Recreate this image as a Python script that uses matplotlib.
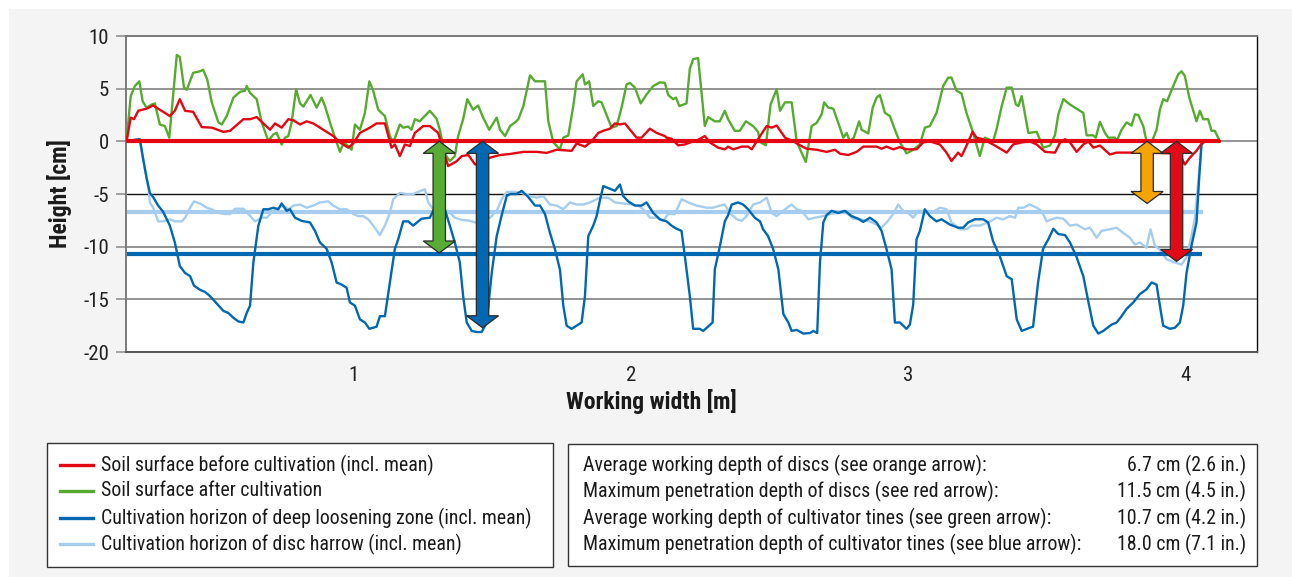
import matplotlib
matplotlib.use("Agg")
import matplotlib.pyplot as plt
import matplotlib.font_manager as fm
from matplotlib.patches import Rectangle, Polygon
import numpy as np

plt.rcParams['font.family'] = ['Roboto', 'DejaVu Sans']

# ---------------- data (working width in m, height in cm) ----------------
before_x = [0.183, 0.198, 0.210, 0.225, 0.255, 0.279, 0.303, 0.339, 0.357, 0.375, 0.394, 0.423, 0.454, 0.490,
            0.532, 0.556, 0.604, 0.628, 0.652, 0.676, 0.700, 0.718, 0.742, 0.766, 0.784, 0.808, 0.832, 0.856,
            0.880, 0.928, 0.952, 0.982, 1.000, 1.024, 1.060, 1.084, 1.114, 1.138, 1.150, 1.168, 1.186, 1.204,
            1.222, 1.252, 1.276, 1.306, 1.324, 1.342, 1.372, 1.391, 1.415, 1.439, 1.463, 1.493, 1.529, 1.565,
            1.613, 1.661, 1.697, 1.733, 1.787, 1.805, 1.835, 1.859, 1.883, 1.901, 1.925, 1.943, 1.961, 1.979,
            2.021, 2.039, 2.069, 2.093, 2.123, 2.129, 2.147, 2.171, 2.195, 2.225, 2.243, 2.267, 2.285, 2.315,
            2.339, 2.351, 2.369, 2.400, 2.423, 2.436, 2.466, 2.490, 2.508, 2.526, 2.556, 2.586, 2.610, 2.634,
            2.670, 2.706, 2.736, 2.754, 2.784, 2.814, 2.838, 2.886, 2.904, 2.922, 2.946, 2.970, 2.994, 3.030,
            3.054, 3.078, 3.114, 3.138, 3.156, 3.180, 3.192, 3.204, 3.232, 3.246, 3.270, 3.306, 3.355, 3.378,
            3.409, 3.438, 3.463, 3.493, 3.529, 3.547, 3.565, 3.583, 3.607, 3.631, 3.649, 3.667, 3.691, 3.727,
            3.751, 3.847, 3.943, 3.979, 3.997, 4.015, 4.039, 4.063, 4.123]
before_y = [0.0, 2.25, 2.1, 2.9, 3.1, 3.4, 3.0, 2.4, 2.9, 4.0, 2.9, 2.8, 1.35, 1.3,
            0.9, 1.0, 2.1, 2.1, 2.3, 1.7, 1.1, 1.7, 1.3, 2.1, 2.0, 1.6, 1.9, 1.7,
            1.3, 0.5, -0.1, -0.6, -0.2, 0.8, 1.3, 1.7, 1.7, -0.6, -0.3, -1.4, -0.3, -0.45,
            0.8, 1.45, 1.45, 0.8, -0.76, -2.35, -1.9, -1.4, -1.3, -2.2, -2.0, -1.55, -1.3, -1.2,
            -1.0, -1.0, -1.1, -0.8, -0.9, -0.2, -0.5, 0.0, 0.8, 1.0, 1.2, 1.7, 1.6, 1.7,
            0.35, 0.35, 1.2, 0.8, 0.5, 0.35, 0.25, -0.38, -0.3, 0.0, 0.15, 0.5, -0.1, -0.6,
            -0.76, -0.5, -0.76, -0.5, -0.5, -0.76, 0.5, 1.45, 1.3, 1.5, 0.35, 0.0, -0.38, -0.7,
            -0.8, -1.0, -0.8, -1.17, -1.3, -1.0, -0.5, -0.5, -0.7, -0.5, -0.76, -0.55, -0.76, -0.76,
            -0.1, 0.0, -0.3, -1.07, -1.87, -1.07, -1.4, -0.76, 0.9, 0.35, 0.2, -0.3, -1.07, -0.3,
            -0.1, 0.0, -0.3, -1.0, -1.07, -0.13, 0.2, -0.1, -1.0, -0.3, 0.0, -0.6, -0.4, -1.25,
            -1.07, -1.07, -1.14, -1.25, -2.2, -1.55, -0.9, 0.0, 0.0]

after_x = [0.183, 0.198, 0.213, 0.229, 0.241, 0.255, 0.274, 0.285, 0.303, 0.321, 0.337, 0.349, 0.364, 0.375,
           0.390, 0.400, 0.423, 0.448, 0.459, 0.474, 0.490, 0.514, 0.526, 0.544, 0.568, 0.592, 0.610, 0.616,
           0.628, 0.652, 0.670, 0.694, 0.712, 0.724, 0.742, 0.754, 0.766, 0.778, 0.794, 0.808, 0.820, 0.846,
           0.868, 0.886, 0.898, 0.922, 0.952, 0.966, 0.982, 0.994, 1.006, 1.024, 1.042, 1.058, 1.072, 1.090,
           1.114, 1.132, 1.144, 1.168, 1.180, 1.198, 1.210, 1.222, 1.240, 1.252, 1.276, 1.300, 1.312, 1.330,
           1.348, 1.366, 1.378, 1.396, 1.411, 1.432, 1.450, 1.468, 1.490, 1.517, 1.529, 1.547, 1.565, 1.583,
           1.595, 1.613, 1.637, 1.655, 1.691, 1.703, 1.721, 1.745, 1.757, 1.775, 1.793, 1.805, 1.827, 1.835,
           1.850, 1.865, 1.883, 1.895, 1.931, 1.949, 1.967, 1.985, 1.997, 2.015, 2.036, 2.057, 2.081, 2.105,
           2.123, 2.135, 2.153, 2.163, 2.175, 2.201, 2.213, 2.225, 2.243, 2.267, 2.279, 2.303, 2.321, 2.339,
           2.351, 2.375, 2.393, 2.415, 2.441, 2.459, 2.466, 2.487, 2.504, 2.526, 2.538, 2.556, 2.580, 2.598,
           2.616, 2.631, 2.652, 2.670, 2.688, 2.697, 2.712, 2.730, 2.748, 2.766, 2.778, 2.790, 2.804, 2.823,
           2.832, 2.856, 2.872, 2.886, 2.898, 2.916, 2.934, 2.952, 2.970, 2.994, 3.018, 3.042, 3.060, 3.078,
           3.102, 3.126, 3.144, 3.156, 3.174, 3.192, 3.210, 3.234, 3.258, 3.276, 3.306, 3.318, 3.337, 3.355,
           3.373, 3.388, 3.397, 3.409, 3.433, 3.463, 3.486, 3.511, 3.529, 3.541, 3.559, 3.583, 3.613, 3.631,
           3.643, 3.667, 3.676, 3.691, 3.709, 3.721, 3.745, 3.751, 3.769, 3.787, 3.805, 3.817, 3.829, 3.847,
           3.859, 3.877, 3.895, 3.907, 3.919, 3.933, 3.955, 3.973, 3.985, 3.997, 4.013, 4.039, 4.051, 4.063,
           4.081, 4.093, 4.105, 4.123]
after_y = [0.0, 4.3, 5.25, 5.7, 3.8, 3.2, 3.5, 3.6, 1.6, 1.45, 0.35, 3.8, 8.2, 8.0,
           5.1, 4.9, 6.5, 6.65, 6.8, 5.85, 3.7, 1.8, 1.6, 2.4, 4.15, 4.7, 4.8, 5.25,
           4.6, 4.0, 1.8, 0.03, 0.66, 0.8, -0.3, 0.35, 0.5, 1.8, 4.95, 3.6, 3.3, 4.4,
           3.2, 4.15, 3.35, 1.3, -1.0, -0.1, -0.45, -0.8, 1.6, 1.1, 2.7, 5.7, 4.8, 3.0,
           2.4, 0.5, -0.1, 1.6, 1.3, 1.4, 1.1, 2.1, 1.9, 2.25, 2.9, 2.15, 1.1, -1.2,
           -1.87, -1.4, 0.5, 2.1, 4.0, 3.0, 3.4, 2.25, 1.1, 2.25, 1.1, 0.5, 1.45, 1.8,
           2.1, 3.35, 6.27, 5.7, 5.7, 1.9, -0.1, -0.76, 0.35, 0.56, 3.35, 5.7, 6.36, 5.4,
           5.7, 3.35, 3.8, 3.7, 1.3, 1.45, 3.2, 5.4, 5.55, 5.1, 3.6, 4.45, 5.25, 5.6,
           5.55, 4.4, 4.0, 4.15, 3.35, 3.6, 6.9, 7.8, 7.9, 1.45, 2.3, 1.9, 1.9, 2.9,
           2.1, 1.0, 1.0, 1.9, 1.45, 0.9, -0.06, -0.38, 3.5, 4.95, 2.9, 3.7, 3.7, 0.0,
           -1.1, -1.96, 1.45, 1.75, 2.56, 3.7, 3.2, 3.1, 1.75, 0.35, 0.8, 0.0, 0.35, 1.9,
           1.1, 0.75, 3.2, 4.15, 4.4, 2.7, 2.4, 1.1, -0.1, -1.14, -0.8, -0.3, 1.3, 1.45,
           2.7, 5.25, 6.05, 6.05, 4.8, 4.55, 2.7, 0.8, -1.4, 0.35, 0.0, 1.1, 3.35, 5.1,
           5.1, 3.5, 3.35, 4.3, 0.8, 0.9, -0.6, -0.4, 0.6, 2.56, 4.0, 3.5, 3.0, 2.7,
           0.57, 0.57, 0.35, 1.85, 0.8, 0.35, 0.35, 0.0, 1.1, 1.8, 1.5, 2.56, 2.5, 1.45,
           0.0, -0.1, 1.1, 3.0, 4.0, 3.8, 5.25, 6.36, 6.65, 6.2, 4.15, 1.9, 2.9, 2.1,
           2.1, 1.0, 1.0, 0.0]

deep_x = [0.183, 0.225, 0.231, 0.243, 0.255, 0.267, 0.279, 0.297, 0.315, 0.339, 0.357, 0.375, 0.394, 0.412,
          0.426, 0.448, 0.466, 0.484, 0.508, 0.532, 0.550, 0.568, 0.586, 0.604, 0.616, 0.628, 0.640, 0.658,
          0.676, 0.694, 0.712, 0.730, 0.742, 0.760, 0.772, 0.790, 0.814, 0.844, 0.862, 0.880, 0.904, 0.922,
          0.940, 0.958, 0.976, 0.988, 1.006, 1.024, 1.042, 1.058, 1.084, 1.096, 1.114, 1.132, 1.150, 1.162,
          1.180, 1.198, 1.216, 1.246, 1.276, 1.288, 1.312, 1.330, 1.348, 1.366, 1.384, 1.396, 1.409, 1.427,
          1.445, 1.463, 1.481, 1.499, 1.517, 1.535, 1.553, 1.565, 1.589, 1.607, 1.631, 1.655, 1.673, 1.691,
          1.709, 1.727, 1.745, 1.757, 1.769, 1.787, 1.805, 1.823, 1.835, 1.847, 1.865, 1.877, 1.889, 1.901,
          1.925, 1.943, 1.961, 1.973, 1.991, 2.015, 2.039, 2.057, 2.081, 2.105, 2.129, 2.147, 2.165, 2.183,
          2.195, 2.213, 2.225, 2.249, 2.261, 2.274, 2.295, 2.303, 2.321, 2.339, 2.351, 2.364, 2.387, 2.405,
          2.423, 2.447, 2.466, 2.477, 2.495, 2.513, 2.532, 2.550, 2.568, 2.580, 2.598, 2.622, 2.646, 2.658,
          2.672, 2.682, 2.694, 2.706, 2.724, 2.748, 2.772, 2.796, 2.820, 2.838, 2.862, 2.886, 2.904, 2.922,
          2.940, 2.952, 2.970, 2.994, 3.006, 3.018, 3.030, 3.042, 3.060, 3.078, 3.102, 3.120, 3.150, 3.180,
          3.198, 3.216, 3.240, 3.270, 3.288, 3.306, 3.330, 3.355, 3.373, 3.391, 3.409, 3.438, 3.450, 3.468,
          3.486, 3.505, 3.523, 3.541, 3.565, 3.583, 3.607, 3.631, 3.649, 3.667, 3.685, 3.703, 3.733, 3.751,
          3.769, 3.787, 3.811, 3.835, 3.859, 3.877, 3.895, 3.907, 3.919, 3.943, 3.961, 3.979, 3.991, 4.003,
          4.021, 4.039, 4.049, 4.057, 4.069, 4.123]
deep_y = [0.0, 0.2, 0.2, -1.7, -3.45, -4.9, -5.3, -6.1, -6.7, -8.0, -9.6, -11.85, -12.5, -12.8,
          -13.7, -14.1, -14.3, -14.7, -15.4, -16.1, -16.3, -16.75, -17.1, -17.2, -16.3, -15.6, -11.5, -8.0,
          -6.45, -6.45, -6.3, -6.45, -5.9, -6.6, -6.45, -7.25, -7.55, -7.7, -8.5, -9.6, -10.2, -11.5,
          -13.4, -13.6, -13.9, -15.3, -15.6, -16.9, -17.2, -17.8, -17.6, -16.6, -16.6, -13.4, -10.2, -9.3,
          -7.6, -7.6, -8.0, -7.35, -7.25, -6.6, -6.0, -6.45, -8.0, -9.6, -11.5, -14.7, -17.2, -18.0,
          -18.1, -18.1, -17.2, -12.5, -9.0, -7.0, -5.2, -5.0, -5.0, -4.7, -5.3, -6.1, -6.1, -6.9,
          -8.7, -10.25, -12.2, -15.6, -17.5, -17.8, -17.5, -17.2, -14.7, -9.0, -8.0, -7.1, -5.6, -4.25,
          -4.5, -4.7, -4.1, -5.2, -5.7, -6.1, -6.1, -5.8, -6.8, -7.4, -7.6, -8.0, -8.3, -8.5,
          -10.9, -14.7, -17.8, -17.8, -18.0, -17.7, -17.2, -12.15, -10.0, -7.6, -7.0, -6.0, -5.8, -6.0,
          -6.45, -7.25, -7.6, -8.35, -9.0, -10.2, -12.15, -16.4, -17.2, -18.0, -17.9, -18.25, -18.2, -18.0,
          -18.2, -11.5, -7.7, -7.0, -6.6, -6.8, -6.6, -7.1, -7.35, -7.65, -7.25, -7.7, -8.5, -10.25,
          -12.15, -17.2, -17.2, -17.8, -17.4, -15.5, -9.3, -8.5, -6.45, -7.1, -7.6, -7.4, -7.9, -8.2,
          -8.2, -7.7, -7.4, -7.4, -7.7, -9.5, -10.9, -12.8, -13.1, -16.9, -18.0, -17.7, -17.6, -13.4,
          -10.2, -9.3, -8.3, -8.8, -8.9, -9.6, -11.0, -12.8, -15.2, -17.5, -18.25, -18.0, -17.4, -17.2,
          -16.6, -15.9, -15.3, -14.5, -14.05, -13.4, -13.6, -15.6, -17.5, -17.8, -17.7, -17.2, -15.6, -12.5,
          -9.9, -7.7, -3.3, -0.3, 0.0, 0.0]

disc_x = [0.183, 0.231, 0.243, 0.255, 0.262, 0.267, 0.279, 0.297, 0.315, 0.339, 0.357, 0.382, 0.394, 0.412,
          0.426, 0.448, 0.472, 0.490, 0.514, 0.538, 0.556, 0.574, 0.604, 0.622, 0.646, 0.670, 0.688, 0.712,
          0.730, 0.748, 0.766, 0.784, 0.808, 0.832, 0.856, 0.880, 0.910, 0.928, 0.952, 0.976, 1.000, 1.018,
          1.036, 1.054, 1.072, 1.096, 1.114, 1.132, 1.144, 1.168, 1.192, 1.216, 1.234, 1.258, 1.270, 1.288,
          1.312, 1.342, 1.366, 1.391, 1.421, 1.439, 1.463, 1.493, 1.517, 1.535, 1.553, 1.583, 1.607, 1.637,
          1.661, 1.685, 1.709, 1.733, 1.757, 1.781, 1.805, 1.829, 1.853, 1.889, 1.919, 1.943, 1.973, 2.003,
          2.027, 2.051, 2.069, 2.093, 2.117, 2.135, 2.159, 2.183, 2.207, 2.237, 2.274, 2.297, 2.321, 2.339,
          2.357, 2.382, 2.400, 2.418, 2.441, 2.466, 2.490, 2.508, 2.526, 2.556, 2.580, 2.598, 2.616, 2.640,
          2.664, 2.694, 2.718, 2.748, 2.778, 2.802, 2.826, 2.856, 2.886, 2.904, 2.922, 2.946, 2.964, 2.982,
          3.000, 3.018, 3.036, 3.060, 3.084, 3.114, 3.138, 3.156, 3.186, 3.210, 3.228, 3.258, 3.288, 3.318,
          3.342, 3.366, 3.385, 3.397, 3.415, 3.438, 3.463, 3.480, 3.499, 3.517, 3.535, 3.559, 3.583, 3.607,
          3.637, 3.655, 3.679, 3.697, 3.727, 3.751, 3.775, 3.799, 3.817, 3.835, 3.859, 3.873, 3.889, 3.907,
          3.931, 3.961, 3.985, 4.003, 4.021, 4.033, 4.045, 4.057, 4.069, 4.123]
disc_y = [0.0, 0.0, -1.7, -3.45, -4.5, -5.8, -6.3, -7.6, -7.6, -7.4, -7.6, -7.6, -7.25, -6.3,
          -5.7, -5.9, -6.3, -6.45, -6.8, -6.9, -6.9, -6.4, -6.4, -6.9, -7.6, -7.25, -7.25, -6.6,
          -6.3, -6.1, -6.45, -6.1, -6.0, -6.3, -6.1, -5.8, -5.7, -6.1, -6.45, -6.45, -6.9, -7.1,
          -7.1, -7.4, -8.0, -8.9, -8.0, -6.8, -5.5, -4.9, -5.0, -5.0, -4.8, -4.55, -5.8, -6.45,
          -6.6, -6.6, -7.25, -7.45, -7.55, -7.7, -7.55, -7.25, -6.6, -5.5, -4.8, -4.8, -4.9, -5.2,
          -5.35, -5.2, -6.0, -6.1, -6.45, -5.8, -6.0, -6.0, -5.8, -5.35, -5.35, -5.8, -5.9, -6.0,
          -6.1, -6.6, -7.25, -7.25, -7.55, -6.9, -6.9, -5.5, -5.8, -6.1, -6.3, -6.3, -6.1, -6.0,
          -6.8, -7.4, -7.55, -7.1, -6.0, -5.8, -5.35, -6.8, -7.1, -6.45, -6.0, -6.45, -6.6, -7.4,
          -7.25, -7.1, -6.9, -6.8, -6.8, -7.35, -7.4, -7.55, -7.9, -8.2, -7.7, -6.9, -6.0, -6.6,
          -6.8, -7.25, -6.6, -6.6, -6.8, -6.3, -6.45, -7.7, -8.35, -8.35, -8.0, -8.0, -7.7, -7.25,
          -7.4, -7.1, -7.25, -6.3, -6.3, -6.0, -6.3, -6.6, -7.6, -7.4, -7.25, -7.35, -8.0, -7.9,
          -8.35, -8.2, -9.15, -8.5, -8.35, -8.2, -8.7, -9.15, -9.8, -9.6, -10.1, -8.35, -9.9, -10.3,
          -11.2, -11.5, -11.7, -11.0, -9.0, -7.25, -3.9, -0.2, 0.0, 0.0]

# means (cm) and the x-extent of each mean line (m)
before_mean = 0.0
deep_mean = -10.7
disc_mean = -6.7
mean_start = 0.183
before_mean_end = 4.123
deep_mean_end = 4.057
disc_mean_end = 4.063

# arrows: (x position [m], top [cm], bottom [cm], colour)
arrow_x = [1.310, 1.466, 3.861, 3.967]
arrow_top = [0.0, 0.0, 0.0, 0.0]
arrow_bottom = [-10.6, -17.7, -5.9, -11.4]
arrow_colors = ['#58ab33', '#0068b3', '#f5a400', '#e20a16']

x_ticks = [1, 2, 3, 4]
y_ticks = [-20, -15, -10, -5, 0, 5, 10]

legend_labels = ['Soil surface before cultivation (incl. mean)',
                 'Soil surface after cultivation',
                 'Cultivation horizon of deep loosening zone (incl. mean)',
                 'Cultivation horizon of disc harrow (incl. mean)']
info_labels = ['Average working depth of discs (see orange arrow):',
               'Maximum penetration depth of discs (see red arrow):',
               'Average working depth of cultivator tines (see green arrow):',
               'Maximum penetration depth of cultivator tines (see blue arrow):']
info_values = ['6.7 cm (2.6 in.)', '11.5 cm (4.5 in.)', '10.7 cm (4.2 in.)', '18.0 cm (7.1 in.)']

RED = '#e30613'
GREEN = '#56ab2f'
DBLUE = '#0067b1'
LBLUE = '#a6cdee'

# ---------------- font selection: prefer a narrow / condensed sans ----------------
def find_font(bold):
    want_w = 700 if bold else 400
    prefs = ['Liberation Sans Narrow', 'Roboto Condensed', 'Arial Narrow', 'Open Sans Condensed',
             'Noto Sans', 'DejaVu Sans']
    best = None
    for name in prefs:
        for f in fm.fontManager.ttflist:
            narrow = ('Narrow' in f.name or 'Condensed' in f.name or
                      str(f.stretch) in ('condensed', 'semi-condensed', 'extra-condensed', '75', '87.5'))
            if f.name.startswith(name.split()[0]) and narrow and f.style == 'normal':
                w = f.weight if isinstance(f.weight, int) else (700 if 'bold' in str(f.weight) else 400)
                if abs(w - want_w) <= 100:
                    best = f.fname
                    break
        if best:
            break
    return best

reg_path = find_font(False)
bold_path = find_font(True)

def FP(size, bold=False):
    path = bold_path if bold else reg_path
    if path:
        return fm.FontProperties(fname=path, size=size)
    return fm.FontProperties(family=['Roboto', 'DejaVu Sans'], size=size * 0.93,
                             weight='bold' if bold else 'normal')

# ---------------- figure ----------------
W, H = 1292, 577
fig = plt.figure(figsize=(W / 100, H / 100), dpi=100, facecolor='white')

def fx(px):
    return px / W

def fy(py):
    return 1 - py / H

# light grey panel (behind the axes)
fig.patches.append(Rectangle((fx(9), 0), 1 - fx(9), fy(9), transform=fig.transFigure,
                             facecolor='#f4f4f4', edgecolor='none', zorder=-10))

ax = fig.add_axes([fx(126), fy(352), fx(1257) - fx(126), fy(36) - fy(352)])
ax.set_zorder(2)
ax.set_facecolor('white')
ax.set_xlim(0.181, 4.257)
ax.set_ylim(-20, 10)
ax.set_yticks(y_ticks)
ax.set_yticklabels([str(t) for t in y_ticks])
ax.set_xticks(x_ticks)
ax.set_xticklabels([str(t) for t in x_ticks])
ax.tick_params(axis='y', direction='out', length=7.2, width=1.1, color='#888888',
               labelcolor='#222222', pad=5)
ax.tick_params(axis='x', length=0, labelcolor='#222222', pad=10)
for lab in ax.get_xticklabels() + ax.get_yticklabels():
    lab.set_fontproperties(FP(15))
ax.yaxis.grid(True, color='#8a8a8a', linewidth=1.3)
ax.set_axisbelow(True)
for t, gl in zip(y_ticks, ax.get_ygridlines()):
    if t == -5:
        gl.set_color('#111111')
        gl.set_linewidth(1.0)
for s in ['left', 'top']:
    ax.spines[s].set_color('#7a7a7a')
    ax.spines[s].set_linewidth(1.4)
ax.spines['bottom'].set_color('#555555')
ax.spines['bottom'].set_linewidth(1.4)
ax.spines['right'].set_color('#111111')
ax.spines['right'].set_linewidth(1.0)

lw = 1.7
mlw = 3.0
ax.plot(disc_x, disc_y, color=LBLUE, lw=lw, zorder=3)
ax.plot([mean_start, disc_mean_end], [disc_mean, disc_mean], color=LBLUE, lw=mlw, zorder=3.2,
        solid_capstyle='butt')
ax.plot(deep_x, deep_y, color=DBLUE, lw=lw, zorder=3.4)
ax.plot([mean_start, deep_mean_end], [deep_mean, deep_mean], color=DBLUE, lw=mlw, zorder=3.5,
        solid_capstyle='butt')
ax.plot(after_x, after_y, color=GREEN, lw=lw, zorder=3.6)
ax.plot(before_x, before_y, color=RED, lw=lw, zorder=3.7)
ax.plot([mean_start, before_mean_end], [before_mean, before_mean], color=RED, lw=mlw, zorder=3.8,
        solid_capstyle='butt')

# double-headed block arrows, sized in pixels around data positions
def double_arrow(x, y_top, y_bot, color, bw=6.2, hw=16.0, hl=12.0):
    tr = ax.transData
    xp, yt = tr.transform((x, y_top))
    _, yb = tr.transform((x, y_bot))
    pts = [(xp, yt), (xp + hw, yt - hl), (xp + bw, yt - hl), (xp + bw, yb + hl), (xp + hw, yb + hl),
           (xp, yb), (xp - hw, yb + hl), (xp - bw, yb + hl), (xp - bw, yt - hl), (xp - hw, yt - hl)]
    dpts = tr.inverted().transform(np.array(pts))
    ax.add_patch(Polygon(dpts, closed=True, facecolor=color, edgecolor='#2a2a2a', lw=0.9, zorder=6,
                         joinstyle='miter'))

for x, yt, yb, c in zip(arrow_x, arrow_top, arrow_bottom, arrow_colors):
    double_arrow(x, yt, yb, c)

# axis titles
fig.text(fx(60), fy(194), 'Height [cm]', rotation=90, ha='center', va='center',
         fontproperties=FP(17, True), color='#1a1a1a')
fig.text(fx(651), fy(402), 'Working width [m]', ha='center', va='center',
         fontproperties=FP(17, True), color='#1a1a1a')

# legend box
fig.patches.append(Rectangle((fx(47), fy(567)), fx(553) - fx(47), fy(443) - fy(567),
                             transform=fig.transFigure, facecolor='white', edgecolor='#333333',
                             lw=1.0, zorder=1))
row_y = [465, 491, 518, 544]
for lab, col, ry in zip(legend_labels, [RED, GREEN, DBLUE, LBLUE], row_y):
    fig.add_artist(plt.Line2D([fx(60), fx(93)], [fy(ry), fy(ry)], transform=fig.transFigure,
                              color=col, lw=2.4, zorder=2))
    fig.text(fx(101), fy(ry), lab, ha='left', va='center', fontproperties=FP(14.3),
             color='#1a1a1a', zorder=2)

# info box
fig.patches.append(Rectangle((fx(568), fy(566)), fx(1257) - fx(568), fy(444) - fy(566),
                             transform=fig.transFigure, facecolor='white', edgecolor='#333333',
                             lw=1.0, zorder=1))
for lab, val, ry in zip(info_labels, info_values, row_y):
    fig.text(fx(583), fy(ry), lab, ha='left', va='center', fontproperties=FP(14.3),
             color='#1a1a1a', zorder=2)
    fig.text(fx(1246), fy(ry), val, ha='right', va='center', fontproperties=FP(14.3),
             color='#1a1a1a', zorder=2)

fig.savefig('out.png', dpi=100, facecolor='white')
